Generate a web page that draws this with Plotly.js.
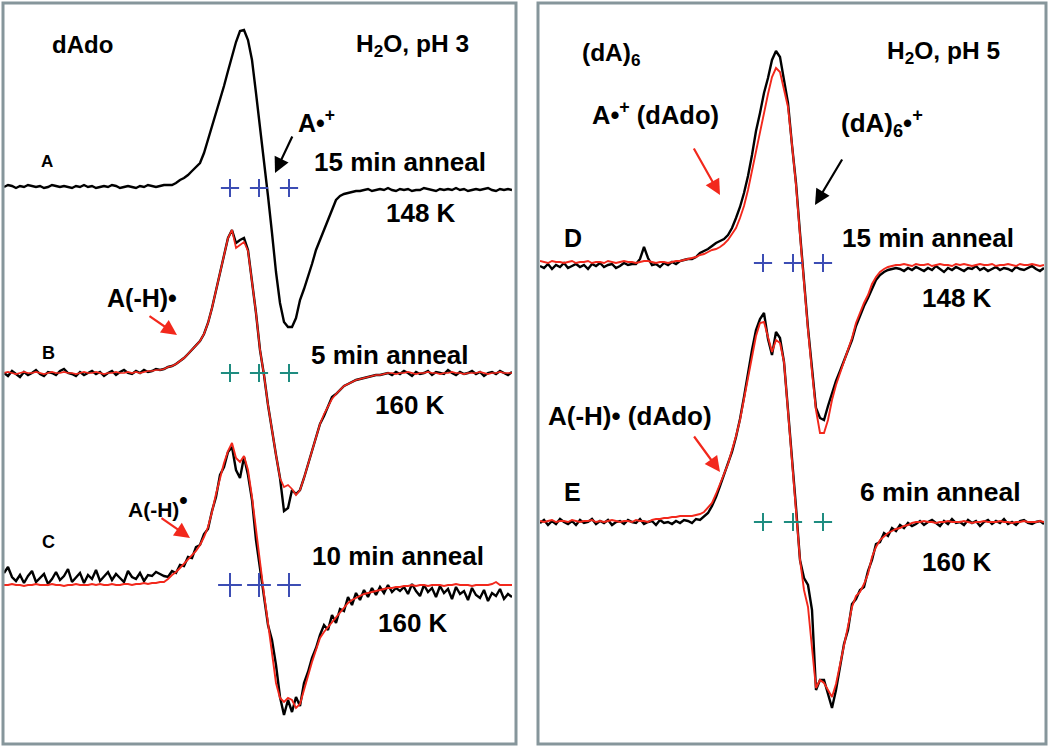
<!DOCTYPE html>
<html>
<head>
<meta charset="utf-8">
<script src="https://cdn.plot.ly/plotly-3.0.1.min.js"></script>
<style>html,body{margin:0;padding:0;background:#fff;}#chart{width:1050px;height:747px;}</style>
</head>
<body>
<div id="chart"></div>
<script>
// ---- Data: EPR derivative spectra (signal, arbitrary units) on field grid points ----
// Left panel: dAdo in H2O, pH 3 (128 field points)
const specA_black = [1,3,2,0,2,1,3,2,1,2,0,1,3,2,1,2,1,0,2,1,3,1,2,0,1,2,1,3,2,0,1,2,1,0,2,1,3,2,1,2,3,3,
  3,5,8,10,13,17,21,25,35,48,61,75,88,102,117,132,146,157,
  158,148,128,95,62,27,-8,-45,-84,-115,-134,-139,-139,-130,
  -112,-101,-89,-76,-62,-52,-42,-30,-21,-12,-8,-6,-5,-4,-3,-3,
  -2,-1,-3,-2,-1,-2,0,-2,-3,-1,-2,-1,-3,-2,-2,0,-1,-2,-3,-1,-2,-1,-2,0,-2,-1,-3,-2,-1,-2,-1,0,-2,-3,-1,-2,-1,-2];
const specB_black = [0,-3,2,-1,-4,1,-2,0,3,-1,-3,1,0,-2,2,4,0,-1,-3,1,-2,0,2,-1,1,-3,0,2,-2,1,3,0,-1,2,0,3,1,2,4,
  3,4,6,7,9,12,15,19,23,27,32,39,50,65,83,102,120,135,143,130,133,135,123,93,60,23,-2,-32,-59,-82,-105,
  -138,-135,-117,-121,-117,
  -105,-91,-77,-63,-51,-43,-33,-24,-21,-17,-13,-11,-9,-7,-6,-5,-4,-3,-2,-2,-1,
  0,-2,1,-1,2,0,-3,1,-1,0,2,-2,1,0,-1,3,0,-2,1,-1,0,2,-1,1,-3,0,1,-1,2,0,-2,1];
const specB_red = [0,1,0,-1,0,1,0,0,1,0,-1,0,1,0,0,1,0,0,-1,0,1,0,0,1,0,-1,0,0,1,0,0,1,0,1,0,1,2,2,3,
  3,4,6,7,9,12,15,19,23,27,32,39,50,65,83,102,120,135,143,125,128,131,122,93,60,23,-2,-32,-59,-82,-105,
  -114,-112,-116,-122,-117,
  -105,-91,-77,-63,-51,-41,-33,-26,-21,-17,-13,-11,-9,-7,-6,-5,-4,-3,-2,-2,-1,
  0,0,-1,0,0,1,0,-1,0,0,1,0,0,-1,0,0,1,0,0,-1,0,0,0,1,0,-1,0,0,1,0,0,0];
const specC_black = [12,18,8,4,10,2,9,14,3,7,11,1,6,13,5,9,16,3,8,12,2,10,6,15,4,9,13,5,11,7,3,14,8,6,12,4,10,9,13,11,
  9,8,14,12,20,19,28,27,38,40,51,56,74,88,110,118,133,138,
  115,107,128,110,85,45,15,-10,-40,-55,-80,-112,
  -130,-115,-127,-112,-121,-98,-87,-73,-63,-50,
  -40,-45,-30,-38,-24,-26,-12,-20,-8,-15,-5,-12,-3,-10,-2,-8,0,-7,-3,-6,
  -2,-9,1,-6,-11,0,-7,-3,-12,-1,-8,-4,-14,-2,-9,-6,-15,-3,-10,-13,-5,-16,-8,-11,-4,-14,-9,-12];
const specC_red = [0,0,1,0,0,-1,0,0,1,0,0,0,1,0,0,-1,0,0,1,0,0,0,1,0,1,0,0,1,0,0,1,1,0,1,1,2,1,2,2,3,
  3,6,10,13,17,21,25,29,34,40,48,58,73,91,108,122,134,142,
  127,123,129,115,88,55,20,-9,-38,-70,-98,-113,
  -117,-113,-115,-123,-119,-105,-90,-77,-65,-53,
  -47,-42,-37,-33,-27,-22,-18,-15,-13,-11,-9,-8,-7,-6,-5,-4,-3,-3,-2,-2,
  -1,-1,0,-1,0,0,-1,0,0,0,-1,0,0,1,0,0,0,-1,0,0,0,0,1,3,0,0,0,0];
// Right panel: (dA)6 in H2O, pH 5 (127 field points)
const specD_black = [-3,-5,-1,-6,-2,-4,0,-5,-3,-1,-4,-2,-6,-1,-3,0,-4,-2,-1,-5,-3,0,-2,-1,-1,4,16,5,-2,-1,-4,0,-2,1,-1,2,3,4,
  4,6,10,12,14,17,20,22,24,28,35,45,56,70,87,108,132,150,170,185,203,212,
  206,183,160,118,80,30,-20,-65,-105,-145,-155,-157,-143,-130,-118,-108,-97,-88,-77,-63,-52,-43,-35,-25,-17,-12,-9,-7,-6,-5,
  -6,-8,-5,-7,-4,-6,-8,-5,-7,-3,-6,-9,-5,-7,-4,-6,-8,-5,-6,-3,-7,-5,-8,-6,-4,-7,-5,-6,-8,-4,-6,-7,-5,-3,-6,-8,-5];
const specD_red = [2,1,0,2,1,1,0,1,2,0,1,1,2,0,1,1,0,2,1,0,1,2,1,1,0,1,2,2,1,0,1,1,0,1,2,2,3,4,
  5,6,8,9,11,13,14,16,19,23,29,35,45,57,73,92,112,133,151,169,186,195,
  191,175,156,118,78,28,-22,-67,-109,-147,-170,-170,-157,-137,-122,-110,-97,-87,-75,-60,-49,-40,-32,-21,-14,-9,-6,-4,-3,-2,
  -2,-1,-2,-3,-1,-2,-2,-1,-3,-2,-1,-2,-2,-3,-1,-2,-1,-2,-3,-2,-1,-2,-2,-1,-3,-2,-2,-1,-2,-3,-1,-2,-2,-1,-2,-3,-2];
const specE_black = [-1,2,-3,1,-2,3,0,-2,1,-3,2,-1,0,3,-2,1,-1,2,-3,0,1,-2,2,0,-1,3,-2,0,1,-3,2,-1,0,-2,1,-1,2,
  1,-1,3,2,6,9,16,25,36,47,57,70,85,103,125,150,172,192,203,209,183,167,190,184,160,112,65,15,
  -38,-56,-63,-88,-168,-158,-158,-173,-186,-168,-145,-122,-108,-82,-77,-68,-65,-49,-38,-22,-20,-11,-14,-6,-9,-3,-6,-1,-4,
  -2,1,-3,0,2,-1,-4,1,-2,3,-1,0,-3,2,-1,1,-4,0,2,-2,1,-1,3,-2,0,-3,1,2,-1,-2,0,1,-2];
const specE_red = [1,0,1,2,0,1,1,0,2,1,0,1,1,2,0,1,0,1,2,1,0,1,1,0,2,1,1,0,2,3,3,4,4,5,5,6,6,
  6,6,7,8,10,14,19,28,39,48,58,71,86,102,123,144,166,186,199,200,185,170,182,179,160,112,67,17,
  -38,-68,-85,-126,-166,-158,-161,-168,-175,-162,-143,-125,-105,-85,-74,-70,-62,-52,-35,-25,-18,-14,-11,-9,-7,-6,-4,-3,-1,
  0,0,1,0,0,-1,0,0,1,0,0,0,1,0,-1,0,0,1,0,0,0,1,0,0,-1,0,0,1,0,0,0,1,0];
// Hyperfine stick positions (field grid units)
const hfLeft = [56.5, 63.75, 71.25];
const hfRight = [55.75, 63.25, 70.75];

// ---- Layout constants (vertical offsets of stacked spectra) ----
const W = 1050, H = 747;
const base = {A: 559, B: 374, C: 162, D: 484, E: 225};
const fieldL = specA_black.map((_, i) => i);
const fieldR = specD_black.map((_, i) => i);
const shift = (arr, b) => arr.map(v => v + b);

const BLACK = '#000000', RED = '#f2281c', BLUE = '#3c4db4', TEAL = '#1e8c80';
function line(x, y, color, w, xa) {
  return {type: 'scatter', mode: 'lines', x: x, y: y, xaxis: xa, yaxis: 'y',
          line: {color: color, width: w, shape: 'linear'}, hoverinfo: 'skip'};
}
function sticks(x, b, color, size, xa) {
  return {type: 'scatter', mode: 'markers', x: x, y: x.map(() => b), xaxis: xa, yaxis: 'y',
          marker: {symbol: 'cross-thin', size: size, line: {color: color, width: 2}}, hoverinfo: 'skip'};
}

const traces = [
  line(fieldL, shift(specA_black, base.A), BLACK, 2.4, 'x'),
  line(fieldL, shift(specB_black, base.B), BLACK, 2.4, 'x'),
  line(fieldL, shift(specB_red, base.B), RED, 1.7, 'x'),
  line(fieldL, shift(specC_black, base.C), BLACK, 2.4, 'x'),
  line(fieldL, shift(specC_red, base.C), RED, 1.9, 'x'),
  line(fieldR, shift(specD_black, base.D), BLACK, 2.4, 'x2'),
  line(fieldR, shift(specD_red, base.D), RED, 1.9, 'x2'),
  line(fieldR, shift(specE_black, base.E), BLACK, 2.4, 'x2'),
  line(fieldR, shift(specE_red, base.E), RED, 1.9, 'x2'),
  sticks(hfLeft, base.A, BLUE, 13, 'x'),
  sticks(hfLeft, base.B, TEAL, 13, 'x'),
  sticks(hfLeft, base.C, BLUE, 17, 'x'),
  sticks(hfRight, base.D, BLUE, 13, 'x2'),
  sticks(hfRight, base.E, TEAL, 13, 'x2')
];

const px = v => v / W, py = v => 1 - v / H;
const FONT = 'Liberation Sans, Arial, Helvetica, sans-serif';
function label(t, x, y, size) {
  return {text: '<b>' + t + '</b>', xref: 'paper', yref: 'paper', x: px(x), y: py(y),
          xanchor: 'center', yanchor: 'middle', showarrow: false,
          font: {family: FONT, size: size || 25, color: '#000'}};
}
function arrow(tipX, tipY, tailX, tailY, color) {
  return {text: '', xref: 'paper', yref: 'paper', x: px(tipX), y: py(tipY),
          ax: tailX - tipX, ay: tailY - tipY, showarrow: true, arrowhead: 2,
          arrowsize: 1.4, arrowwidth: 2.2, arrowcolor: color, standoff: 0, startstandoff: 0};
}

const annotations = [
  label('dAdo', 82, 45, 24),
  label('H<sub>2</sub>O, pH 3', 412, 46, 24.5),
  label('A', 47, 161, 17),
  label('A•<sup>+</sup>', 316, 121),
  label('15 min anneal', 400, 162, 26),
  label('148 K', 421, 213, 26),
  label('B', 48, 353, 18),
  label('A(-H)•', 142, 298),
  label('5 min anneal', 390, 355, 26),
  label('160 K', 410, 405, 26),
  label('C', 48, 542, 18),
  label('A(-H)<sup><span style="font-size:24px">•</span></sup>', 158, 503, 21),
  label('10 min anneal', 398, 556, 26),
  label('160 K', 413, 623, 26),
  label('(dA)<sub>6</sub>', 611, 54, 24.5),
  label('H<sub>2</sub>O, pH 5', 943, 53, 24.5),
  label('A•<sup>+</sup> (dAdo)', 655, 113, 25.5),
  label('(dA)<sub>6</sub>•<sup>+</sup>', 882, 123, 26),
  label('D', 573, 238),
  label('15 min anneal', 928, 238, 26),
  label('148 K', 957, 298, 26),
  label('A(-H)• (dAdo)', 630, 416, 26),
  label('E', 572, 492),
  label('6 min anneal', 940, 492, 26.5),
  label('160 K', 957, 562, 26),
  arrow(275, 173, 293, 135, BLACK),
  arrow(177, 335, 148, 315, RED),
  arrow(190, 538, 160, 517, RED),
  arrow(720, 195, 693, 147, RED),
  arrow(815, 205, 843, 158, BLACK),
  arrow(720, 472, 693, 435, RED)
];

const BORDER = '#86969b';
const layout = {
  width: W, height: H, margin: {l: 0, r: 0, t: 0, b: 0},
  paper_bgcolor: '#ffffff', plot_bgcolor: 'rgba(0,0,0,0)', showlegend: false,
  xaxis: {domain: [px(4), px(512)], range: [0, 127], visible: false, fixedrange: true, anchor: 'y'},
  xaxis2: {domain: [px(540), px(1044)], range: [0, 126], visible: false, fixedrange: true, anchor: 'y'},
  yaxis: {domain: [0, 1], range: [0, H], visible: false, fixedrange: true},
  shapes: [
    {type: 'rect', xref: 'paper', yref: 'paper', x0: px(3), x1: px(516), y0: py(744), y1: py(3),
     line: {color: BORDER, width: 3}},
    {type: 'rect', xref: 'paper', yref: 'paper', x0: px(538), x1: px(1046), y0: py(744), y1: py(3),
     line: {color: BORDER, width: 3}}
  ],
  annotations: annotations
};

Plotly.newPlot('chart', traces, layout, {staticPlot: true, displayModeBar: false});
</script>
</body>
</html>
